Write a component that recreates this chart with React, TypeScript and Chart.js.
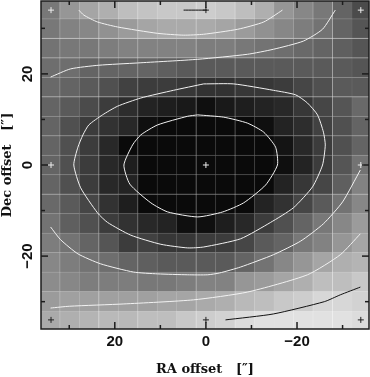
import React, { useEffect, useRef } from "react";
import { Chart, registerables } from "chart.js";
Chart.register(...registerables);

const cellCenters = [34.2, 29.925, 25.65, 21.375, 17.1, 12.825, 8.55, 4.275, 0, -4.275, -8.55, -12.825, -17.1, -21.375, -25.65, -29.925, -34.2];
const cellHalf = 2.1375;
const gridEdges = [32.06, 27.79, 23.51, 19.24, 14.96, 10.69, 6.41, 2.14, -2.14, -6.41, -10.69, -14.96, -19.24, -23.51, -27.79, -32.06];
const gridAlphaV = [0.2,0.05,0.33,0.07,0.25,0.07,0.05,0.33,0.07,0.3,0.07,0.07,0.07,0.25,0.33,0.07];
const gridAlphaH = [0.12,0.33,0.33,0.07,0.33,0.05,0.2,0.07,0.07,0.25,0.05,0.05,0.07,0.07,0.05,0.05];

const row00 = [120,150,165,175,190,195,200,200,205,200,190,175,150,135,120,100,75];
const row01 = [120,130,135,145,155,165,170,170,170,165,155,145,135,125,115,100,85];
const row02 = [115,120,120,125,130,130,130,130,125,125,120,115,110,105,100,95,85];
const row03 = [110,110,100,100,100,100,95,90,90,90,90,90,90,90,90,90,85];
const row04 = [105,100,90,80,65,60,60,55,50,50,55,55,60,70,80,90,90];
const row05 = [100,90,75,60,45,35,30,25,15,25,30,35,40,55,70,85,105];
const row06 = [100,80,60,50,40,15,10,10,10,10,10,15,35,45,65,80,100];
const row07 = [100,80,60,40,10,10,10,10,10,10,10,10,20,40,60,80,100];
const row08 = [100,80,60,40,30,10,10,10,10,10,10,10,15,35,60,85,115];
const row09 = [100,80,60,40,35,10,10,10,10,10,10,10,35,55,70,95,130];
const row10 = [105,90,70,50,30,10,10,10,10,10,10,35,50,70,90,115,135];
const row11 = [115,95,80,60,50,40,35,15,15,30,40,60,80,100,120,135,155];
const row12 = [125,115,100,85,60,65,55,55,60,60,70,90,100,120,130,150,165];
const row13 = [135,125,115,110,100,95,90,90,90,90,100,115,135,150,165,175,180];
const row14 = [140,135,125,125,125,120,120,125,130,130,150,155,165,175,190,190,200];
const row15 = [155,160,160,160,160,160,165,165,170,175,185,190,200,205,215,215,210];
const row16 = [170,175,180,185,185,190,190,200,205,210,220,225,225,225,225,225,220];
const rows = [row00,row01,row02,row03,row04,row05,row06,row07,row08,row09,row10,row11,row12,row13,row14,row15,row16];

const contourAx = [27.9,26.8,23.8,19.4,10.6,4.9,0.5,-7,-12.7,-16.8];
const contourAy = [34,32.9,31.4,30.3,28.9,28.5,28.7,29.8,31.4,34];
const contourBx = [34.1,29.7,23.5,15.0,1.8,-9.1,-14.8,-21.4,-25.6,-28.4];
const contourBy = [19.3,21.1,21.9,22.4,23.2,24.3,25.4,27.2,29.8,34];
const contourCx = [0.5,7.1,14.3,19.4,22.7,25.7,27.0,28.1,29.0,27.5,23.8,21.6,16.5,9.9,4.0,0.5,-7.6,-14.2,-19.2,-23.4,-25.6,-26.2,-25.8,-24.5,-22.3,-19.7,-14.8,-6.1,0.5];
const contourCy = [17.8,16.4,14.7,12.9,11.0,8.8,6.6,3.9,0,-5.0,-10.5,-12.6,-15.4,-17.4,-18.2,-18.0,-16.2,-12.6,-9.4,-4.8,0,4.4,7.2,11.0,13.6,15.4,16.4,17.8,17.8];
const contourDx = [1.8,4.0,10.6,14.3,16.1,18.0,16.7,12.1,8.4,1.8,-3.7,-8.3,-13.1,-15.7,-15.3,-12.7,-9.1,-3.9,1.8];
const contourDy = [11,10.7,8.8,6.6,4.4,0,-4.2,-8.3,-10.3,-11.4,-10.3,-8.3,-4.4,0,3.9,7.2,9.2,10.5,11];
const contourEx = [34.1,31.9,28.1,23.1,15.9,10.6,4.0,-0.4,-3.0,-7.6,-14.8,-20.8,-25.8,-30,-33.9];
const contourEy = [-13.6,-16.4,-19.5,-21.7,-23.5,-23.9,-24.1,-24.1,-23.7,-22.4,-19.7,-16.7,-12.9,-8.1,-1.1];
const contourFx = [34.1,29.9,18.0,2.7,-9.1,-22.3,-29.5,-33.9];
const contourFy = [-31.4,-31.0,-30.5,-29.6,-27.9,-24.1,-19.7,-15.1];
const contourGx = [-4.3,-14.8,-26,-29.5,-33.9];
const contourGy = [-34,-32.7,-30.0,-28.5,-26.8];
const contourHx = [4.9,-0.2];
const contourHy = [34,34];

const crossLightX = [34,-34,0,34,-34];
const crossLightY = [34,34,0,0,0];
const crossDarkX = [0,34,0,-34];
const crossDarkY = [34,-34,-34,-34];

const majorTicks = [-20,0,20];
const minorTicks = [-30,-10,10,30];
const xMin = -35.8, xMax = 36.2, yMin = -36.0, yMax = 36.0;
const BOX = "#1c1c1c";

const zip = (xs: number[], ys: number[]) => xs.map((x, i) => ({ x, y: ys[i] }));
const lineDs = (xs: number[], ys: number[], color: string) => ({
  type: "line" as const, data: zip(xs, ys), borderColor: color, borderWidth: 1,
  pointRadius: 0, tension: 0.2, order: 2, fill: false,
});
const gridDs = (xs: number[], ys: number[], alpha: number) => ({
  ...lineDs(xs, ys, `rgba(255,255,255,${alpha})`), tension: 0, order: 3,
});
const labelOf = (v: any) => (v < 0 ? "\u2212" + -v : String(v));
const onlyMajor = (s: any) => { s.ticks = majorTicks.map((value) => ({ value })); };
const noPad = (s: any) => { s.paddingLeft = 0; s.paddingRight = 0; s.paddingTop = 0; s.paddingBottom = 0; };

const frame = {
  id: "frame",
  afterDraw(chart: any) {
    const { ctx, chartArea: a, scales: { x, y } } = chart;
    ctx.save();
    ctx.strokeStyle = BOX;
    ctx.lineWidth = 1.5;
    const seg = (x1: number, y1: number, x2: number, y2: number) => { ctx.beginPath(); ctx.moveTo(x1, y1); ctx.lineTo(x2, y2); ctx.stroke(); };
    const mark = (vals: number[], len: number) => vals.forEach((v) => {
      const px = x.getPixelForValue(v), py = y.getPixelForValue(v);
      seg(px, a.top, px, a.top + len);
      seg(px, a.bottom, px, a.bottom - len);
      seg(a.left, py, a.left + len, py);
      seg(a.right, py, a.right - len, py);
    });
    mark(majorTicks, 7);
    mark(minorTicks, 4);
    ctx.strokeRect(a.left, a.top, a.right - a.left, a.bottom - a.top);
    ctx.restore();
  },
};

export default function App() {
  const ref = useRef<HTMLCanvasElement>(null);
  useEffect(() => {
    const gridDatasets = gridEdges.flatMap((e, i) => [
      gridDs([e, e], [yMin, yMax], gridAlphaV[i]),
      gridDs([xMin, xMax], [e, e], gridAlphaH[i]),
    ]);
    const barDatasets = rows.map((r, i) => ({
      type: "bar" as const,
      data: r.map((_, j) => ({ x: cellCenters[j], y: [cellCenters[i] - cellHalf, cellCenters[i] + cellHalf] })),
      backgroundColor: r.map((g) => `rgb(${g},${g},${g})`),
      borderWidth: 0, grouped: false, barPercentage: 1.01, categoryPercentage: 1, order: 4,
    }));
    const white = "#f2f2f2";
    const chart = new Chart(ref.current!, {
      type: "bar",
      data: {
        datasets: [
          ...barDatasets,
          ...gridDatasets,
          lineDs(contourAx, contourAy, white),
          lineDs(contourBx, contourBy, white),
          lineDs(contourCx, contourCy, white),
          lineDs(contourDx, contourDy, white),
          lineDs(contourEx, contourEy, white),
          lineDs(contourFx, contourFy, white),
          lineDs(contourGx, contourGy, "#111"),
          lineDs(contourHx, contourHy, "#111"),
          { type: "scatter", data: zip(crossLightX, crossLightY), pointStyle: "cross", pointRadius: 3, pointBorderColor: "#eee", pointBorderWidth: 1, order: 1, showLine: false },
          { type: "scatter", data: zip(crossDarkX, crossDarkY), pointStyle: "cross", pointRadius: 3, pointBorderColor: "#222", pointBorderWidth: 1, order: 1, showLine: false },
        ] as any,
      },
      options: {
        responsive: false,
        animation: false,
        layout: { autoPadding: false, padding: { left: 0, top: 1, right: 1, bottom: 0 } },
        plugins: { legend: { display: false }, tooltip: { enabled: false } },
        scales: {
          x: {
            type: "linear", reverse: true, min: xMin, max: xMax, offset: false,
            grid: { display: false, offset: false, drawTicks: false },
            border: { display: false },
            afterBuildTicks: onlyMajor,
            ticks: {
              padding: 4, maxRotation: 0, color: "#111",
              font: { family: "Liberation Sans", weight: "bold", size: 15 },
              callback: labelOf,
            },
            title: { display: true, text: "RA offset   [\u2033]", color: "#111", padding: { top: 11, bottom: 0 }, font: { family: "DejaVu Serif", weight: "bold", size: 13 } },
            afterFit: (s: any) => { s.height = 48; noPad(s); },
          },
          y: {
            type: "linear", min: yMin, max: yMax,
            grid: { display: false, drawTicks: false },
            border: { display: false },
            afterBuildTicks: onlyMajor,
            ticks: {
              padding: 0, minRotation: 90, maxRotation: 90, crossAlign: "center", color: "#111",
              font: { family: "Liberation Sans", weight: "bold", size: 15 },
              callback: labelOf,
            },
            title: { display: true, text: "Dec offset   [\u2033]", color: "#111", padding: { top: 0, bottom: 0 }, font: { family: "DejaVu Serif", weight: "bold", size: 13 } },
            afterFit: (s: any) => { s.width = 41; noPad(s); },
          },
        },
      } as any,
      plugins: [frame],
    });
    return () => chart.destroy();
  }, []);
  return (
    <div style={{ position: "absolute", left: 0, top: 0, width: 370, height: 377 }}>
      <canvas ref={ref} width={370} height={377} style={{ display: "block" }} />
    </div>
  );
}
